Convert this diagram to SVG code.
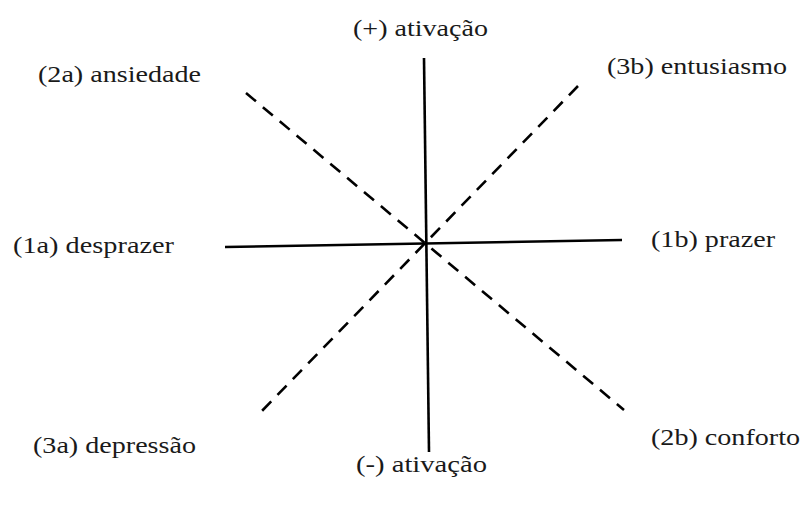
<svg xmlns="http://www.w3.org/2000/svg" width="803" height="506" viewBox="0 0 803 506">
<style>
.t{font-family:"Liberation Serif","Times New Roman",serif;font-size:23px;fill:#1a1a1a}
.s{stroke:#000;stroke-width:2.6;fill:none}
.d{stroke:#000;stroke-width:2.6;fill:none;stroke-dasharray:13,9}
</style>
<rect width="803" height="506" fill="#fff"/>
<g id="connectors">
<line class="d" x1="246" y1="93" x2="624" y2="410"/>
<line class="d" x1="578" y1="86" x2="258" y2="415"/>
<line class="s" x1="424" y1="58" x2="429" y2="452"/>
<line class="s" x1="225" y1="247" x2="622" y2="240"/>
</g>
<g id="n-top"><text class="t" x="353" y="36" textLength="135" lengthAdjust="spacingAndGlyphs">(+) ativação</text></g>
<g id="n-2a"><text class="t" x="38" y="82" textLength="163" lengthAdjust="spacingAndGlyphs">(2a) ansiedade</text></g>
<g id="n-3b"><text class="t" x="607" y="74" textLength="180" lengthAdjust="spacingAndGlyphs">(3b) entusiasmo</text></g>
<g id="n-1a"><text class="t" x="13" y="253" textLength="161" lengthAdjust="spacingAndGlyphs">(1a) desprazer</text></g>
<g id="n-1b"><text class="t" x="651" y="247" textLength="124" lengthAdjust="spacingAndGlyphs">(1b) prazer</text></g>
<g id="n-3a"><text class="t" x="33" y="453" textLength="163" lengthAdjust="spacingAndGlyphs">(3a) depressão</text></g>
<g id="n-2b"><text class="t" x="651" y="445" textLength="149" lengthAdjust="spacingAndGlyphs">(2b) conforto</text></g>
<g id="n-bottom"><text class="t" x="356" y="472" textLength="131" lengthAdjust="spacingAndGlyphs">(-) ativação</text></g>
</svg>
